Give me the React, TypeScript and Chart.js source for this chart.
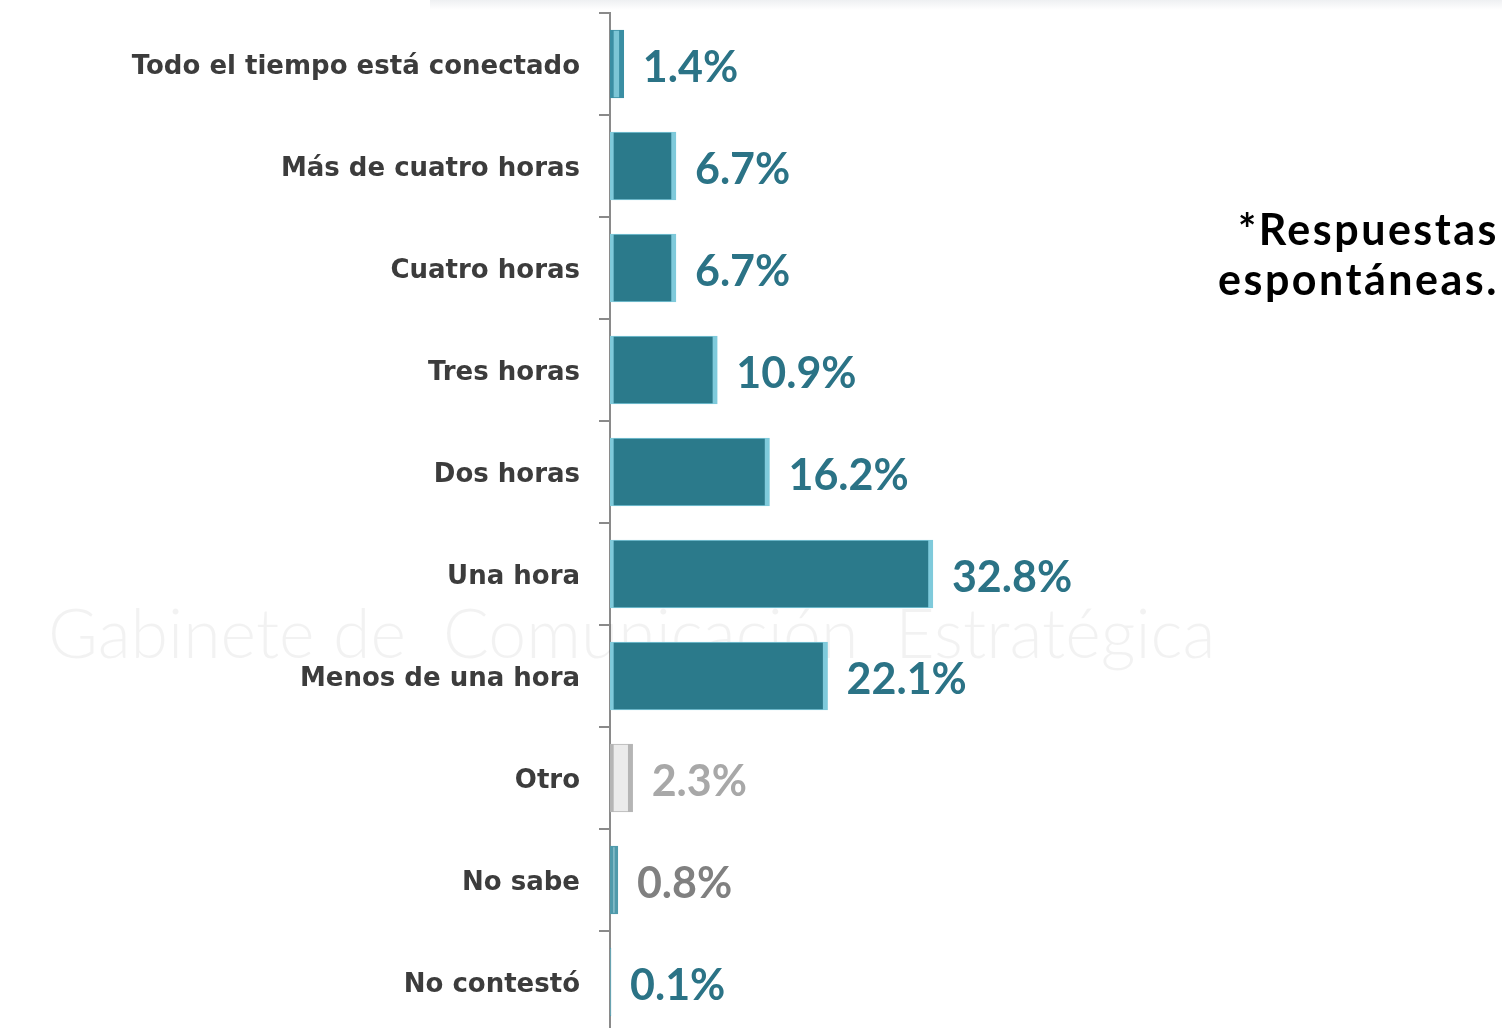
import React, { useEffect, useRef } from "react";
import { Chart, registerables } from "chart.js";

Chart.register(...registerables);

const categories = [
  "Todo el tiempo está conectado",
  "Más de cuatro horas",
  "Cuatro horas",
  "Tres horas",
  "Dos horas",
  "Una hora",
  "Menos de una hora",
  "Otro",
  "No sabe",
  "No contestó",
];
const values = [1.4, 6.7, 6.7, 10.9, 16.2, 32.8, 22.1, 2.3, 0.8, 0.1];
const valueLabels = ["1.4%", "6.7%", "6.7%", "10.9%", "16.2%", "32.8%", "22.1%", "2.3%", "0.8%", "0.1%"];

const TEAL = "#2b7a8b";
const barColors = ["#7cc6d6", TEAL, TEAL, TEAL, TEAL, TEAL, TEAL, "#ebebeb", "#63aebf", "#63aebf"];
const barBorders = ["#3a8ea3", "#7fcadb", "#7fcadb", "#7fcadb", "#7fcadb", "#7fcadb", "#7fcadb", "#b5b5b5", "#4f9aab", "#4f9aab"];
const labelColors = ["#2b7386", "#2b7386", "#2b7386", "#2b7386", "#2b7386", "#2b7386", "#2b7386", "#a8a8a8", "#808080", "#2b7386"];

const FONT = "Lato, 'Open Sans', sans-serif";
const LABEL_FONT = "'DejaVu Sans', 'Open Sans', sans-serif";

const watermarkPlugin = {
  id: "watermark",
  beforeDatasetsDraw(chart: any) {
    const ctx = chart.ctx;
    ctx.save();
    ctx.fillStyle = "rgba(0,0,0,0.05)";
    ctx.font = `300 68px ${FONT}`;
    ctx.textBaseline = "middle";
    ctx.textAlign = "left";
    ctx.fillText("Gabinete de  Comunicación  Estratégica", 48, 636);
    ctx.restore();
  },
};

const valueLabelPlugin = {
  id: "valueLabels",
  afterDatasetsDraw(chart: any) {
    const ctx = chart.ctx;
    const meta = chart.getDatasetMeta(0);
    ctx.save();
    ctx.font = `bold 43px ${FONT}`;
    ctx.textBaseline = "middle";
    ctx.textAlign = "left";
    meta.data.forEach((bar: any, i: number) => {
      ctx.fillStyle = labelColors[i];
      ctx.fillText(valueLabels[i], bar.x + 19, bar.y + 4);
    });
    ctx.restore();
  },
};

export default function App() {
  const ref = useRef<HTMLCanvasElement | null>(null);

  useEffect(() => {
    if (!ref.current) return;
    const chart = new Chart(ref.current, {
      type: "bar",
      data: {
        labels: categories,
        datasets: [
          {
            data: values,
            backgroundColor: barColors,
            borderColor: barBorders,
            borderWidth: { left: 4, right: 5, top: 1, bottom: 1 } as any,
            barThickness: 68,
            borderSkipped: false,
          },
        ],
      },
      options: {
        indexAxis: "y",
        animation: false,
        responsive: false,
        maintainAspectRatio: false,
        layout: { padding: { top: 13, right: 6, bottom: 7, left: 0 } },
        plugins: { legend: { display: false }, tooltip: { enabled: false } },
        scales: {
          x: { display: false, min: 0, max: 90 },
          y: {
            afterFit: (s: any) => {
              s.width = 610;
              s.paddingTop = 0;
              s.paddingBottom = 0;
            },
            border: { display: true, color: "#8a8a8a", width: 2 },
            grid: {
              offset: true,
              drawOnChartArea: false,
              drawTicks: true,
              tickLength: 11,
              color: "#8a8a8a",
              lineWidth: 2,
            },
            ticks: {
              padding: 19,
              labelOffset: 3,
              color: "#3c3c3c",
              font: { family: LABEL_FONT, size: 26, weight: "bold" },
            },
          },
        },
      },
      plugins: [watermarkPlugin, valueLabelPlugin],
    });
    return () => chart.destroy();
  }, []);

  return (
    <div
      style={{
        position: "fixed",
        left: 0,
        top: 0,
        width: 1502,
        height: 1028,
        overflow: "hidden",
        background: "#fff",
      }}
    >
      <div
        style={{
          position: "absolute",
          left: 430,
          top: 0,
          width: 1072,
          height: 10,
          background: "linear-gradient(#eef0f2, #ffffff)",
        }}
      />
      <canvas ref={ref} width={1502} height={1040} style={{ position: "absolute", left: 0, top: 0 }} />
      <div
        style={{
          position: "absolute",
          right: 3,
          top: 204,
          textAlign: "right",
          fontFamily: FONT,
          fontWeight: 700,
          fontSize: 43,
          letterSpacing: "2.5px",
          lineHeight: "50px",
          color: "#000",
        }}
      >
        *Respuestas
        <br />
        espontáneas.
      </div>
    </div>
  );
}
